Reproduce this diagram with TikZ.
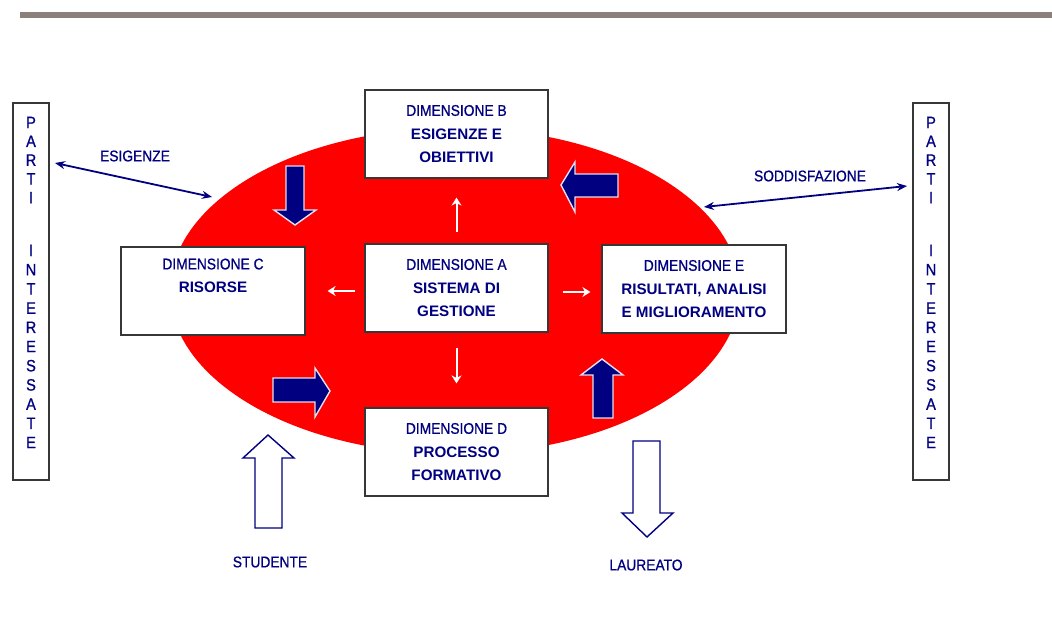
\documentclass[tikz,border=0pt]{standalone}
\usepackage{fontspec}
\setmainfont{Liberation Sans}
\newfontfamily\narrowsans{Liberation Sans}[FakeStretch=0.89,FakeBold=0.8]
\usetikzlibrary{shapes.geometric,arrows.meta}
\definecolor{navy}{RGB}{0,0,128}
\definecolor{barcol}{RGB}{140,128,125}
\definecolor{boxline}{RGB}{55,55,55}
\definecolor{arredge}{RGB}{225,225,240}
\begin{document}
\begin{tikzpicture}[x=1pt,y=-1pt,
  dimbox/.style={draw=boxline, line width=1.2pt, fill=white, minimum width=183pt,
    minimum height=88pt, inner sep=0pt, align=center, text=navy,
    font=\fontsize{15.2}{23.5}\selectfont\bfseries},
  tallbox/.style={draw=boxline, line width=1.2pt, fill=white, minimum width=36pt,
    minimum height=377pt, inner sep=0pt},
  vlet/.style={text=navy, inner sep=0pt, font=\narrowsans\fontsize{16.5}{19}\selectfont},
  lab/.style={text=navy, inner sep=0pt, font=\narrowsans\fontsize{15.5}{17}\selectfont},
  warr/.style={draw=white, line width=2pt, -{Stealth[length=8pt,width=10pt]}},
  darr/.style={draw=navy, line width=1.8pt,
    {Stealth[length=10pt,width=8pt]}-{Stealth[length=10pt,width=8pt]}},
  solidarr/.style={fill=navy, draw=arredge, line width=1.4pt, line join=miter},
  hollowarr/.style={fill=white, draw=navy, line width=1.4pt, line join=miter}]

\useasboundingbox (0,0) rectangle (1052,628);
\fill[white] (0,0) rectangle (1052,628);

% header rule
\fill[barcol] (20,12.5) rectangle (1052,18.5);

% red oval behind the dimensions
\node[ellipse, fill=red, minimum width=570pt, minimum height=326pt, inner sep=0pt] (oval) at (455,291) {};

% dimension boxes
\newcommand{\dimline}[1]{{\narrowsans\mdseries\fontsize{15.5}{23.5}\selectfont #1}}
\node[dimbox] (B) at (456.5,134) {\dimline{DIMENSIONE B}\\ESIGENZE E\\OBIETTIVI};
\node[dimbox] (A) at (456.5,288) {\dimline{DIMENSIONE A}\\SISTEMA DI\\GESTIONE};
\node[dimbox, minimum width=184pt] (C) at (213,291) {\dimline{DIMENSIONE C}\\RISORSE\\\strut};
\node[dimbox] (D) at (456.5,452) {\dimline{DIMENSIONE D}\\PROCESSO\\FORMATIVO};
\node[dimbox, minimum width=184pt] (E) at (694,289) {\dimline{DIMENSIONE E}\\RISULTATI, ANALISI\\E MIGLIORAMENTO};

% white arrows from the management system
\draw[warr, shorten <=11pt, shorten >=19pt] (A.north) -- (B.south);
\draw[warr, shorten <=9pt, shorten >=22pt] ([yshift=-3pt]A.west) -- (C.east);
\draw[warr, shorten <=14pt, shorten >=11pt] ([yshift=-4pt]A.east) -- ([yshift=-3pt]E.west);
\draw[warr, shorten <=15pt, shorten >=24pt] (A.south) -- (D.north);

% stakeholder columns
\node[tallbox] (PL) at (31,291.5) {};
\node[tallbox] (PR) at (931,291.5) {};
\foreach \ch [count=\k] in {P,A,R,T,I} {
  \node[vlet] (pl\k) at (31,{122.5+18.8*(\k-1)}) {\ch};
  \node[vlet] (pr\k) at (931,{122.5+18.8*(\k-1)}) {\ch};
}
\foreach \ch [count=\k] in {I,N,T,E,R,E,S,S,A,T,E} {
  \node[vlet] (ql\k) at (31,{250.5+19.2*(\k-1)}) {\ch};
  \node[vlet] (qr\k) at (931,{250.5+19.2*(\k-1)}) {\ch};
}

% needs and satisfaction
\coordinate (esgL) at (55,163);
\coordinate (esgR) at (212,197);
\draw[darr] (esgL) -- (esgR);
\node[lab] (esg) at (135,156) {ESIGENZE};
\coordinate (sodL) at (704,207);
\coordinate (sodR) at (907,186);
\draw[darr] (sodL) -- (sodR);
\node[lab] (sod) at (810,176) {SODDISFAZIONE};

% cycle arrows on the oval
\draw[solidarr] (286,166) -- (304,166) -- (304,210) -- (316,210) -- (295,225)
  -- (274,210) -- (286,210) -- cycle;
\draw[solidarr] (561,185) -- (575,162) -- (575,174) -- (618,174) -- (618,197)
  -- (575,197) -- (575,212) -- cycle;
\draw[solidarr] (273,378) -- (315,378) -- (315,368) -- (330,391) -- (315,417)
  -- (315,402) -- (273,402) -- cycle;
\draw[solidarr] (602,359) -- (623,375) -- (613,375) -- (613,418) -- (593,418)
  -- (593,375) -- (581,375) -- cycle;

% student in, graduate out
\draw[hollowarr] (268,435) -- (294,458) -- (282,458) -- (282,528) -- (255,528)
  -- (255,458) -- (243,458) -- cycle;
\node[lab] (stu) at (270,562) {STUDENTE};
\draw[hollowarr] (633,441) -- (660,441) -- (660,513) -- (673,513) -- (647,537)
  -- (622,513) -- (633,513) -- cycle;
\node[lab] (lau) at (646,565) {LAUREATO};
\end{tikzpicture}
\end{document}
